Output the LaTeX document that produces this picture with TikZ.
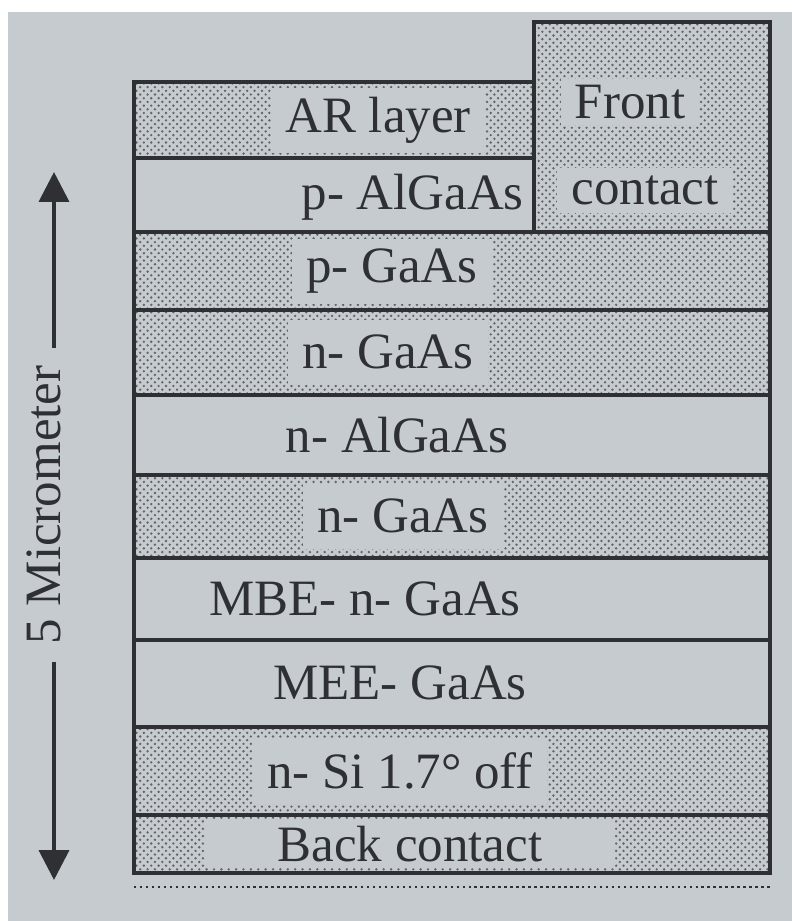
\documentclass[tikz,border=0pt]{standalone}
\usepackage{fontspec}
\setmainfont{Liberation Serif}
\usetikzlibrary{patterns,arrows.meta}
\definecolor{paper}{RGB}{198,203,208}
\definecolor{ink}{RGB}{46,48,52}
% staggered stipple dots
\pgfdeclarepatternformonly{stipple}{\pgfqpoint{-1pt}{-1pt}}{\pgfqpoint{4.2pt}{4.2pt}}{\pgfqpoint{4.2pt}{4.2pt}}{%
  \pgfpathcircle{\pgfqpoint{0pt}{0pt}}{0.75pt}%
  \pgfpathcircle{\pgfqpoint{2.1pt}{2.1pt}}{0.75pt}%
  \pgfusepath{fill}}
\tikzset{
  layer/.style={draw=ink, line width=2.2pt},
  plainlayer/.style={layer, fill=paper},
  dotlayer/.style={layer, preaction={fill=paper}, pattern=stipple, pattern color=ink!75},
  patch/.style={fill=paper, inner xsep=8pt, minimum height=1.3cm},
  dimarrow/.style={draw=ink, line width=2.2pt, -{Triangle[width=17pt,length=17pt]}},
}
\begin{document}
\begin{tikzpicture}[x=0.02cm, y=-0.02cm, every node/.style={font=\fontsize{29}{34}\selectfont, text=ink}]
  \useasboundingbox (0,0) rectangle (792,921);
  \fill[paper] (8,12) rectangle (792,921);
  % layer stack, top to bottom
  \draw[dotlayer] (134,82) rectangle (534,158);
  \draw[plainlayer] (134,158) rectangle (534,232);
  \draw[dotlayer] (534,22) rectangle (770,232);
  \draw[dotlayer] (134,232) rectangle (770,310);
  \draw[dotlayer] (134,310) rectangle (770,395);
  \draw[plainlayer] (134,395) rectangle (770,475);
  \draw[dotlayer] (134,475) rectangle (770,558);
  \draw[plainlayer] (134,558) rectangle (770,640);
  \draw[plainlayer] (134,640) rectangle (770,727);
  \draw[dotlayer] (134,727) rectangle (770,815);
  \draw[dotlayer] (134,815) rectangle (770,873);
  \draw[ink, dotted, line width=1.4pt] (134,887) -- (772,887);
  % labels
  \node[patch] (ar) at (378,120) {AR layer};
  \node[anchor=east] (palgaas) at (530,197) {p- AlGaAs};
  \node[patch, minimum height=0.8cm] (front) at (630,102) {Front};
  \node[patch, minimum height=0.9cm] (contact) at (645,190) {contact};
  \node[patch] (pgaas) at (392,271) {p- GaAs};
  \node[patch] (ngaasa) at (388,352) {n- GaAs};
  \node (nalgaas) at (397,435) {n- AlGaAs};
  \node[patch] (ngaasb) at (403,516) {n- GaAs};
  \node (mbe) at (365,599) {MBE- n- GaAs};
  \node (mee) at (400,683) {MEE- GaAs};
  \node[patch] (nsi) at (400,771) {n- Si 1.7° off};
  \node[patch, minimum width=8.2cm, minimum height=0.95cm] (back) at (410,844) {Back contact};
  % thickness arrow
  \coordinate (uptip) at (54,172);
  \coordinate (downtip) at (54,880);
  \node[rotate=90, inner xsep=10pt] (span) at (44,505) {5 Micrometer};
  \draw[dimarrow] (span.east -| uptip) -- (uptip);
  \draw[dimarrow] (span.west -| downtip) -- (downtip);
\end{tikzpicture}
\end{document}
